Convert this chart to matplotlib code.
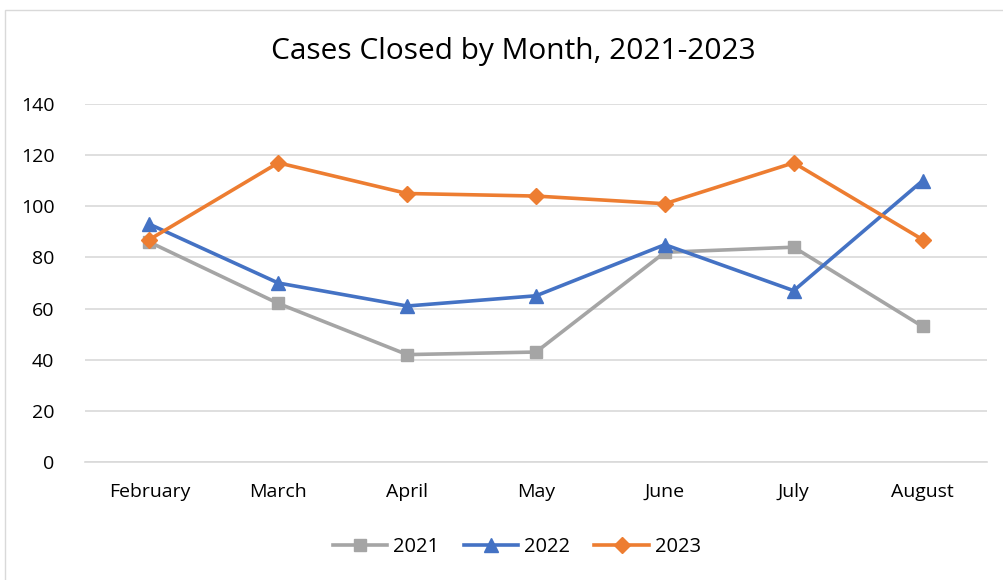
import matplotlib
matplotlib.use("Agg")
import matplotlib.pyplot as plt
from matplotlib.patches import Rectangle

months = ["February", "March", "April", "May", "June", "July", "August"]
y2021 = [86, 62, 42, 43, 82, 84, 53]
y2022 = [93, 70, 61, 65, 85, 67, 110]
y2023 = [87, 117, 105, 104, 101, 117, 87]
yticks = [0, 20, 40, 60, 80, 100, 120, 140]

plt.rcParams['font.family'] = ['Open Sans', 'DejaVu Sans']

fig = plt.figure(figsize=(10.04, 5.8), dpi=100)
fig.patches.append(Rectangle((5/1004, -0.01), 1.0, 1 - 10/580 + 0.01, transform=fig.transFigure,
                             fill=False, edgecolor='#d9d9d9', linewidth=1.0))
ax = fig.add_axes([85/1004, 1-462/580, 902/1004, 358/580])

x = list(range(len(months)))
ax.plot(x, y2021, color='#a5a5a5', lw=2.6, marker='s', ms=9, label='2021', zorder=3)
ax.plot(x, y2022, color='#4472c4', lw=2.6, marker='^', ms=10, label='2022', zorder=4)
ax.plot(x, y2023, color='#ed7d31', lw=2.6, marker='D', ms=8, label='2023', zorder=5)

ax.set_xlim(-0.5, 6.5)
ax.set_ylim(0, 140)
ax.set_yticks(yticks)
ax.set_xticks(x)
ax.set_xticklabels(months)
ax.grid(axis='y', color='#d9d9d9', lw=1.2, zorder=0)
ax.set_axisbelow(True)
for s in ['top', 'right', 'left']:
    ax.spines[s].set_visible(False)
ax.spines['bottom'].set_color('#d9d9d9')
ax.spines['bottom'].set_linewidth(1.2)
ax.tick_params(axis='both', length=0, labelsize=14, colors='#000000')
ax.tick_params(axis='y', pad=22)
ax.tick_params(axis='x', pad=15)

fig.text(513/1004, 1-52/580, "Cases Closed by Month, 2021-2023", ha='center', va='center', fontsize=21.5)

leg = fig.legend(loc='center', bbox_to_anchor=(517/1004, 1-547/580), ncol=3, frameon=False,
                 fontsize=14.5, handlelength=2.7, columnspacing=1.2, handletextpad=0.3)

fig.savefig("out.png", dpi=100)
